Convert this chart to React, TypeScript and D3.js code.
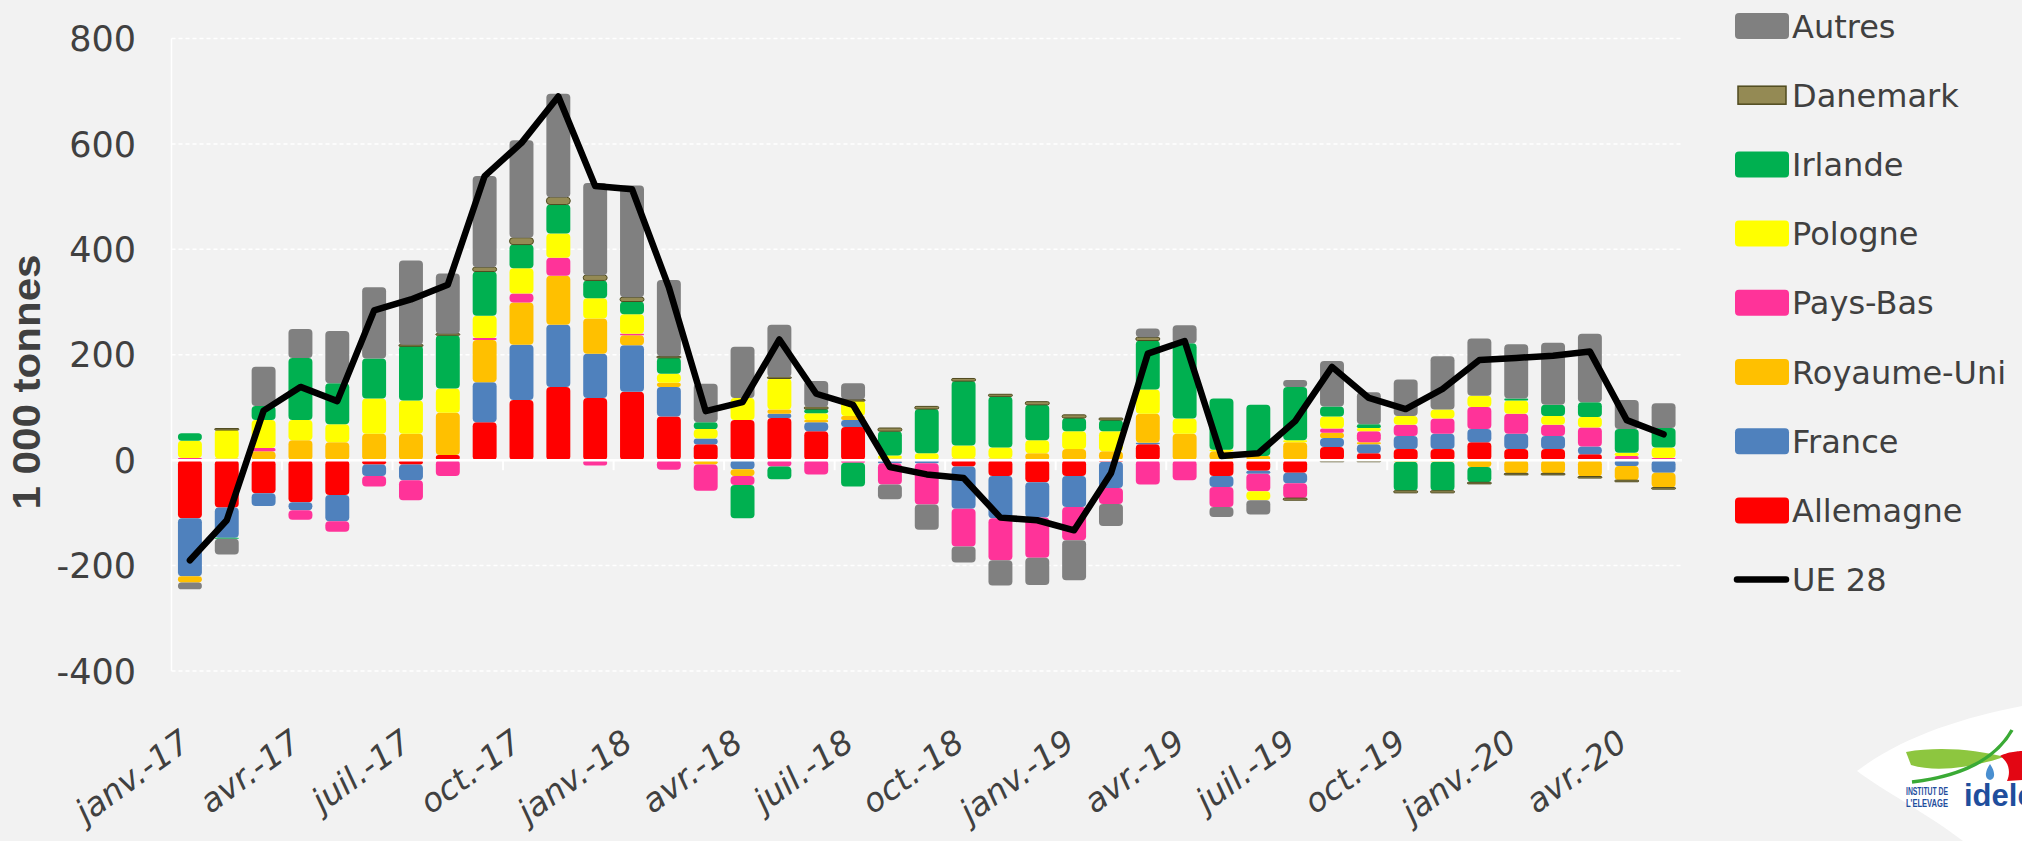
import React from 'react';
import * as d3 from 'd3';

const months = [
  'janv.-17', 'févr.-17', 'mars-17', 'avr.-17', 'mai-17', 'juin-17', 'juil.-17', 'août-17', 'sept.-17', 'oct.-17', 'nov.-17', 'déc.-17',
  'janv.-18', 'févr.-18', 'mars-18', 'avr.-18', 'mai-18', 'juin-18', 'juil.-18', 'août-18', 'sept.-18', 'oct.-18', 'nov.-18', 'déc.-18',
  'janv.-19', 'févr.-19', 'mars-19', 'avr.-19', 'mai-19', 'juin-19', 'juil.-19', 'août-19', 'sept.-19', 'oct.-19', 'nov.-19', 'déc.-19',
  'janv.-20', 'févr.-20', 'mars-20', 'avr.-20', 'mai-20',
];

// 1 000 tonnes, monthly variation
const allemagne = [-110, -90, -63, -80, -66, -8, -8, 10, 72, 114, 139, 118, 130, 83, 30, 76, 80, 55, 63, -2, 0, -12, -30, -42, -30, -3, 30, 0, -30, -20, -24, 25, 13, 21, 21, 34, 21, 21, 11, 0, 0];
const france = [-110, -57, -24, -15, -50, -22, -30, 0, 76, 105, 118, 84, 88, 56, 11, -17, 8, 17, 13, -4, -6, -80, -80, -67, -59, -50, 3, 0, -21, -6, -20, 17, 17, 25, 29, 25, 29, 25, 15, -11, -24];
const royaumeUni = [-12, 3, 17, 38, 34, 50, 50, 80, 80, 80, 93, 67, 19, 8, -8, -13, 8, 4, 8, 3, 0, 3, 3, 13, 21, 17, 55, 50, 17, 8, 34, 10, 4, -3, -3, -13, -25, -25, -31, -27, -28];
const paysBas = [4, 0, 6, -18, -20, -20, -38, -30, 4, 17, 34, -10, 3, -18, -50, -17, -12, -27, -5, -40, -78, -72, -80, -76, -63, -30, -46, -38, -38, -33, -28, 8, 21, 21, 29, 42, 38, 21, 36, 8, 4];
const pologne = [33, 55, 53, 38, 34, 67, 63, 46, 42, 48, 46, 38, 37, 17, 18, 42, 59, 13, 29, 6, 13, 25, 21, 25, 34, 38, 46, 29, 3, -17, 4, 23, 6, 17, 17, 21, 25, 17, 20, 6, 20];
const irlande = [14, -2, 27, 118, 78, 76, 105, 101, 84, 45, 55, 34, 24, 31, 13, -63, -24, 8, -45, 46, 84, 122, 97, 67, 25, 21, 93, 143, 97, 97, 101, 19, 7, -55, -55, -29, 4, 21, 28, 45, 37];
const danemark = [0, 2, 0, 0, 0, 0, 1, 3, 8, 13, 14, 10, 8, 2, 0, 0, 3, 4, 2, 6, 5, 5, 4, 6, 6, 4, 6, 0, 0, 0, -4, -3, -3, -4, -4, -3, -3, -3, -3, -3, -3];
const autres = [-13, -30, 74, 55, 99, 135, 160, 114, 173, 185, 196, 175, 212, 145, 73, 97, 99, 49, 31, -28, -48, -30, -48, -52, -76, -42, 17, 34, -19, -27, 13, 86, 61, 69, 101, 109, 103, 118, 130, 55, 47];
const ue28 = [-190, -114, 94, 139, 112, 284, 305, 333, 539, 602, 690, 520, 514, 328, 93, 110, 229, 126, 105, -13, -27, -34, -109, -114, -133, -25, 202, 226, 8, 13, 74, 177, 118, 97, 135, 190, 194, 198, 206, 76, 49];

const series = [
  { key: 'Allemagne', color: '#FF0000', values: allemagne },
  { key: 'France', color: '#4F81BD', values: france },
  { key: 'Royaume-Uni', color: '#FFC000', values: royaumeUni },
  { key: 'Pays-Bas', color: '#FF3399', values: paysBas },
  { key: 'Pologne', color: '#FFFF00', values: pologne },
  { key: 'Irlande', color: '#00B050', values: irlande },
  { key: 'Danemark', color: '#948A54', values: danemark },
  { key: 'Autres', color: '#808080', values: autres },
];

const W = 2022;
const H = 841;
const font = '"DejaVu Sans", sans-serif';
const textColor = '#404040';

export default function App() {
  const x = d3.scaleBand<string>().domain(months).range([171.5, 1682]).paddingInner(0.35).paddingOuter(0.175);
  const y = d3.scaleLinear().domain([-400, 800]).range([671, 38.5]);
  const bw = x.bandwidth();
  const step = x.step();
  const cx = (m: string) => (x(m) as number) + bw / 2;

  const rows = months.map((m, i) => {
    const r: any = { month: m };
    series.forEach(s => { r[s.key] = s.values[i]; });
    return r;
  });
  const stacked = d3.stack<any>().keys(series.map(s => s.key)).offset(d3.stackOffsetDiverging)(rows);

  const line = d3.line<number>()
    .x((_, i) => cx(months[i]))
    .y(d => y(d));

  const yTicks = y.ticks(6);
  const legend = [...series].reverse();

  return (
    <svg width={W} height={H} style={{ position: 'absolute', left: 0, top: 0, background: '#F2F2F2' }}>
      <rect x={0} y={0} width={W} height={H} fill="#F2F2F2" />

      {/* grid */}
      {yTicks.filter(t => t !== 0).map(t => (
        <line key={t} x1={171.5} x2={1682} y1={y(t)} y2={y(t)} stroke="#FFFFFF" strokeWidth={1.5} strokeDasharray="4 3" />
      ))}
      <line x1={171.5} x2={171.5} y1={y(800)} y2={y(-400)} stroke="#FFFFFF" strokeWidth={1.5} />

      {/* y axis labels */}
      {yTicks.map(t => (
        <text key={t} x={136} y={y(t)} dy="0.36em" textAnchor="end" fontFamily={font} fontSize={35} fill={textColor}>{t}</text>
      ))}
      <text transform={`translate(40,${382}) rotate(-90)`} textAnchor="middle" fontFamily='"Liberation Sans", Arial, sans-serif'
        fontWeight="bold" fontSize={38} fill={textColor} textLength={255} lengthAdjust="spacingAndGlyphs">1 000 tonnes</text>

      {/* bars */}
      {stacked.map((layer, li) => (
        <g key={layer.key} fill={series[li].color}>
          {layer.map((d, i) => {
            const top = y(Math.max(d[0], d[1]));
            const h = Math.abs(y(d[0]) - y(d[1]));
            if (h <= 0) return null;
            const isDk = layer.key === 'Danemark';
            return (
              <rect key={i} x={x(months[i])} y={top} width={bw} height={Math.max(h, isDk ? 1.5 : 0)}
                rx={Math.min(4, h / 2)}
                stroke={isDk ? '#4F4A1E' : 'none'} strokeWidth={isDk ? 1 : 0} />
            );
          })}
        </g>
      ))}

      {/* zero line and ticks */}
      <line x1={171.5} x2={1682} y1={y(0)} y2={y(0)} stroke="#FFFFFF" strokeWidth={2.5} />
      {months.map((m, i) => (i % 3 === 0 && i > 0 ? (
        <line key={m} x1={(x(m) as number) - (step - bw) / 2} x2={(x(m) as number) - (step - bw) / 2}
          y1={y(0)} y2={y(0) + 10} stroke="#FFFFFF" strokeWidth={2} />
      ) : null))}

      {/* UE 28 line */}
      <path d={line(ue28) as string} fill="none" stroke="#000000" strokeWidth={6.5} strokeLinejoin="round" strokeLinecap="round" />

      {/* x axis labels */}
      {months.map((m, i) => (i % 3 === 0 ? (
        <text key={m} transform={`translate(${cx(m) - 12},727) rotate(-36)`} dy="0.75em" textAnchor="end"
          fontFamily={font} fontStyle="italic" fontSize={33} fill={textColor}>{m}</text>
      ) : null))}

      {/* legend */}
      {legend.map((s, i) => {
        const cy = 26 + i * 69.2;
        const isDk = s.key === 'Danemark';
        return (
          <g key={s.key}>
            {isDk
              ? <rect x={1738} y={cy - 9} width={48} height={18} fill={s.color} stroke="#4F4A1E" strokeWidth={1.5} />
              : <rect x={1735} y={cy - 13} width={54} height={26} rx={4} fill={s.color} />}
            <text x={1792} y={cy} dy="0.36em" fontFamily={font} fontSize={32} fill={textColor}>{s.key}</text>
          </g>
        );
      })}
      <line x1={1737} x2={1786} y1={26 + 8 * 69.2} y2={26 + 8 * 69.2} stroke="#000" strokeWidth={6.5} strokeLinecap="round" />
      <text x={1792} y={26 + 8 * 69.2} dy="0.36em" fontFamily={font} fontSize={32} fill={textColor}>UE 28</text>

      {/* logo */}
      <g>
        <path d="M1857,771 C1900,738 1960,718 2022,706 L2022,841 L1963,841 C1925,812 1885,792 1857,771 Z" fill="#FFFFFF" />
        <path d="M1906,752 C1940,746 1978,750 2004,757 C1980,765 1940,774 1911,765 Z" fill="#8DC63F" />
        <path d="M1912,782 C1955,777 1994,762 2012,730" stroke="#3AAA35" strokeWidth={3.5} fill="none" />
        <path d="M2000,756 C2010,751 2022,751 2022,751 L2022,780 L2007,781 C2011,772 2009,762 2000,756 Z" fill="#E30613" />
        <path d="M1990,764 C1985,771 1984,779 1990,780 C1996,779 1995,771 1990,764 Z" fill="#4A8FD0" />
        <text x={1906} y={795} fontSize={11} fontWeight="bold" fill="#1F4E9D" fontFamily='"Liberation Sans", sans-serif'
          textLength={42} lengthAdjust="spacingAndGlyphs">INSTITUT DE</text>
        <text x={1906} y={807} fontSize={11} fontWeight="bold" fill="#1F4E9D" fontFamily='"Liberation Sans", sans-serif'
          textLength={42} lengthAdjust="spacingAndGlyphs">L'ELEVAGE</text>
        <text x={1964} y={806} fontSize={31} fontWeight="bold" fill="#1F4E9D" fontFamily='"Liberation Sans", sans-serif'>idele</text>
      </g>
    </svg>
  );
}
